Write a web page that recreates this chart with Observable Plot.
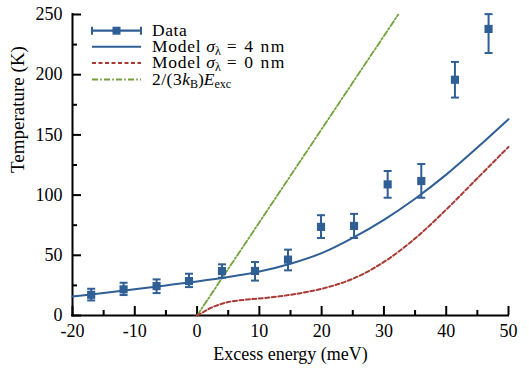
<!DOCTYPE html>
<html><head><meta charset="utf-8">
<script src="https://cdn.jsdelivr.net/npm/d3@7"></script>
<script src="https://cdn.jsdelivr.net/npm/@observablehq/plot@0.6"></script>
<style>
html,body{margin:0;padding:0;background:#fff;font-family:'Liberation Serif',serif;}
#wrap{position:relative;width:529px;height:372px;overflow:hidden;}
#wrap svg{display:block;}
.overlay{position:absolute;left:0;top:0;pointer-events:none;}
</style></head><body><div id="wrap"></div>
<script>
// ---- axes ----
const xDomain = [-20, 50];
const yDomain = [0, 250];
const xMajor = [-20, -10, 0, 10, 20, 30, 40, 50];
const xMinor = [-15, -5, 5, 15, 25, 35, 45];
const xTickLabels = ["-20", "-10", "0", "10", "20", "30", "40", "50"];
const yMajor = [0, 50, 100, 150, 200, 250];
const yMinor = [25, 75, 125, 175, 225];
const yTickLabels = ["0", "50", "100", "150", "200", "250"];
const xTitle = "Excess energy (meV)";
const yTitle = "Temperature (K)";

// ---- measured data with error bars ----
const dataEnergy = [-17, -11.8, -6.5, -1.3, 4, 9.3, 14.6, 19.9, 25.2, 30.6, 36, 41.4, 46.8];
const dataTemp   = [17.2, 21.7, 24.4, 28.6, 36.9, 37, 46.4, 73.6, 74.4, 108.9, 111.7, 195.8, 238];
const dataLow    = [12.5, 17, 18.6, 23.6, 31.4, 29, 37.5, 64.4, 64.4, 97.8, 97.8, 181, 218];
const dataHigh   = [22.2, 27.2, 30, 34.7, 42.5, 44.4, 54.7, 83.3, 84.4, 120, 125.8, 210.6, 250.3];

// ---- model sigma = 4 nm ----
const model4Energy = [-20, -15, -10, -5, 0, 5, 10, 15, 20, 25, 30, 35, 40, 45, 50];
const model4Temp   = [15.8, 18.6, 21.8, 25, 28.3, 32, 36.5, 43, 51.8, 64.5, 79.5, 97, 117, 139.5, 163];

// ---- model sigma = 0 nm ----
const model0Energy = [0, 1, 2, 3, 4, 5, 7.5, 10, 15, 20, 25, 30, 35, 40, 45, 50];
const model0Temp   = [0, 2.8, 5.8, 8, 9.8, 11.2, 13, 14.1, 17.2, 22.2, 30.5, 44.5, 64, 88, 114, 140];

// ---- 2/(3kB) Eexc ----
const classicalEnergy = [0, 32.3];
const classicalTemp   = [0, 250];

const BLUE = "#2f5f94";
const RED = "#a83a36";
const GREEN = "#72a03a";
const FONT = "Liberation Serif, serif";

const points = dataEnergy.map((x, i) => ({x, y: dataTemp[i], lo: dataLow[i], hi: dataHigh[i]}));
const model4 = model4Energy.map((x, i) => ({x, y: model4Temp[i]}));
const model0 = model0Energy.map((x, i) => ({x, y: model0Temp[i]}));
const classical = classicalEnergy.map((x, i) => ({x, y: classicalTemp[i]}));

const capSymbol = {
  draw(context, size) {
    const w = Math.sqrt(size / Math.PI);
    context.moveTo(-w, 0);
    context.lineTo(w, 0);
  }
};

const chart = Plot.plot({
  width: 529,
  height: 372,
  marginLeft: 72,
  marginRight: 21,
  marginTop: 14,
  marginBottom: 57,
  x: {domain: xDomain, label: null},
  y: {domain: yDomain, label: null},
  style: {fontFamily: FONT, fontSize: "18px", background: "white", color: "black", overflow: "visible"},
  marks: [
    // axis lines
    Plot.ruleY([yDomain[0]], {x1: xDomain[0], x2: xDomain[1], strokeWidth: 2, strokeLinecap: "square"}),
    Plot.ruleX([xDomain[0]], {y1: yDomain[0], y2: yDomain[1], strokeWidth: 2, strokeLinecap: "square"}),
    // inward ticks
    Plot.axisX({ticks: xMajor, tickSize: -9, strokeWidth: 2, fill: "none", label: null}),
    Plot.axisX({ticks: xMinor, tickSize: -5, strokeWidth: 2, fill: "none", label: null}),
    Plot.axisY({ticks: yMajor, tickSize: -9, strokeWidth: 2, fill: "none", label: null}),
    Plot.axisY({ticks: yMinor, tickSize: -5, strokeWidth: 2, fill: "none", label: null}),
    // tick labels
    Plot.axisX({ticks: xMajor, tickSize: 0, tickPadding: 9, label: null, fontSize: 18, fontFamily: FONT,
      tickFormat: d => xTickLabels[xMajor.indexOf(d)]}),
    Plot.axisY({ticks: yMajor, tickSize: 0, tickPadding: 10, label: null, fontSize: 18, fontFamily: FONT,
      tickFormat: d => yTickLabels[yMajor.indexOf(d)]}),
    // titles
    Plot.text([xTitle], {frameAnchor: "bottom", dy: 39, fontSize: 18, fontFamily: FONT, lineAnchor: "middle", letterSpacing: 0.55}),
    Plot.text([yTitle], {frameAnchor: "left", dx: -55, dy: 8, rotate: -90, fontSize: 19, fontFamily: FONT, lineAnchor: "middle", letterSpacing: 1.2}),
    // curves
    Plot.line(classical, {x: "x", y: "y", stroke: GREEN, strokeWidth: 1.8, strokeDasharray: "6,2.2,1.6,2.2"}),
    Plot.line(model0, {x: "x", y: "y", stroke: RED, strokeWidth: 2, strokeDasharray: "4,2.5", curve: "catmull-rom"}),
    Plot.line(model4, {x: "x", y: "y", stroke: BLUE, strokeWidth: 2, curve: "catmull-rom"}),
    // data
    Plot.ruleX(points, {x: "x", y1: "lo", y2: "hi", stroke: BLUE, strokeWidth: 2}),
    Plot.dot(points, {x: "x", y: "lo", symbol: capSymbol, r: 4, stroke: BLUE, strokeWidth: 2}),
    Plot.dot(points, {x: "x", y: "hi", symbol: capSymbol, r: 4, stroke: BLUE, strokeWidth: 2}),
    Plot.dot(points, {x: "x", y: "y", symbol: "square", r: 4.6, fill: BLUE})
  ]
});

chart.setAttribute("font-family", FONT);
d3.select(chart).selectAll("text, g").each(function() {
  this.style.setProperty("font-family", FONT, "important");
  if (this.hasAttribute("font-family")) this.setAttribute("font-family", FONT);
});

const wrap = document.getElementById("wrap");
wrap.appendChild(chart);

// ---- legend overlay ----
const legendY = [30.7, 46.7, 63, 79.5];
const lx1 = 92, lx2 = 141, tx = 152;
const svg = d3.create("svg").attr("class", "overlay").attr("width", 529).attr("height", 372)
  .attr("font-family", FONT).style("font-size", "17.5px");

// Data sample
svg.append("line").attr("x1", lx1).attr("x2", lx2).attr("y1", legendY[0]).attr("y2", legendY[0])
  .attr("stroke", BLUE).attr("stroke-width", 2.2);
[lx1, lx2].forEach(x => svg.append("line").attr("x1", x).attr("x2", x)
  .attr("y1", legendY[0] - 4).attr("y2", legendY[0] + 4).attr("stroke", BLUE).attr("stroke-width", 2));
svg.append("rect").attr("x", 116.5 - 4).attr("y", legendY[0] - 4).attr("width", 8).attr("height", 8).attr("fill", BLUE);
// model lines
svg.append("line").attr("x1", lx1).attr("x2", lx2).attr("y1", legendY[1]).attr("y2", legendY[1])
  .attr("stroke", BLUE).attr("stroke-width", 2);
svg.append("line").attr("x1", lx1).attr("x2", lx2).attr("y1", legendY[2]).attr("y2", legendY[2])
  .attr("stroke", RED).attr("stroke-width", 2).attr("stroke-dasharray", "4,2.5");
svg.append("line").attr("x1", lx1).attr("x2", lx2).attr("y1", legendY[3]).attr("y2", legendY[3])
  .attr("stroke", GREEN).attr("stroke-width", 1.8).attr("stroke-dasharray", "6,2.2,1.6,2.2");

function addText(i, parts) {
  const t = svg.append("text").attr("x", tx).attr("y", legendY[i] + 5).attr("fill", "black");
  parts.forEach(p => {
    const s = t.append("tspan").text(p.t);
    if (p.i) s.attr("font-style", "italic");
    if (p.sub) s.attr("font-size", "12px").attr("dy", 3);
    if (p.up) s.attr("dy", -3);
    if (p.ls) s.attr("letter-spacing", p.ls);
  });
}
addText(0, [{t: "Data", ls: 0.6}]);
addText(1, [{t: "Model ", ls: 0.7}, {t: "σ", i: true}, {t: "λ", sub: true}, {t: " = 4 nm", up: true, ls: 1.6}]);
addText(2, [{t: "Model ", ls: 0.7}, {t: "σ", i: true}, {t: "λ", sub: true}, {t: " = 0 nm", up: true, ls: 1.6}]);
addText(3, [{t: "2/(3", ls: 0.5}, {t: "k", i: true}, {t: "B", sub: true}, {t: ")", up: true}, {t: "E", i: true}, {t: "exc", sub: true}]);

wrap.appendChild(svg.node());
</script></body></html>
